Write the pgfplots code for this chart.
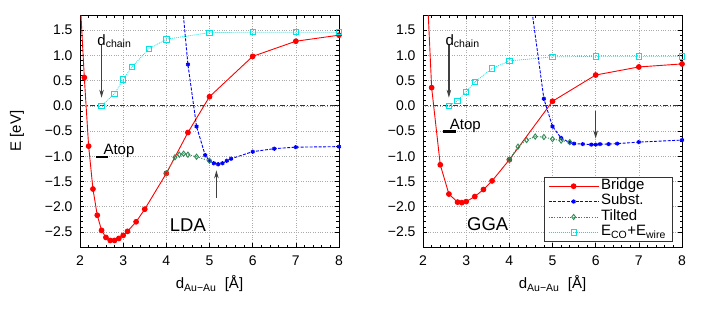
\documentclass[border=0pt]{standalone}
\usepackage{fontspec}
\setmainfont{Liberation Sans}
\usepackage{pgfplots}
\pgfplotsset{compat=1.18}
\usetikzlibrary{arrows.meta}
\definecolor{gpgreen}{RGB}{46,139,87}
\definecolor{gpcyan}{RGB}{0,228,228}
\definecolor{gpgrid}{RGB}{170,170,170}

\tikzset{annarrow/.style={black!75, line width=1.2pt, -{Stealth[length=8pt,width=4.5pt]}}}

\pgfplotsset{
 myaxis/.style={
  scale only axis, width=259pt, height=232pt,
  xmin=2, xmax=8, ymin=-2.8, ymax=1.8,
  xtick={2,...,8}, xticklabels={2,3,4,5,6,7,8},
  ytick={-2.5,-2,...,1.5},
  yticklabels={−2.5,−2.0,−1.5,−1.0,−0.5,0.0,0.5,1.0,1.5},
  minor x tick num=4, minor y tick num=4,
  tick align=inside, major tick length=4pt, minor tick length=2.5pt,
  grid=major, major grid style={dotted, gpgrid, line width=0.5pt},
  axis line style={line width=0.9pt},
  tick style={line width=0.6pt, black},
  tick label style={font=\fontsize{14}{16}\selectfont},
  xticklabel style={yshift=-5pt},
  yticklabel style={xshift=-4pt},
  xlabel={d\textsubscript{Au−Au}\ \ [Å]},
  every axis x label/.style={at={(axis description cs:0.5,-0.181)}, anchor=base, font=\fontsize{15}{17}\selectfont},
  anchor=south west,
 },
 bridge/.style={red, line width=0.9pt, mark=*, mark size=2.4pt, mark options={solid}},
 subst/.style={blue, line width=0.9pt, dash pattern=on 3pt off 1.5pt, mark=asterisk, mark size=2.1pt, mark options={solid, line width=1.3pt}},
 tilted/.style={gpgreen, line width=0.9pt, dash pattern=on 1.2pt off 1.5pt, mark=diamond, mark size=2.6pt, mark options={solid, line width=0.9pt}},
 eco/.style={gpcyan, line width=0.7pt, dash pattern=on 1pt off 1pt, mark=square, mark size=2.7pt, mark options={solid, line width=0.8pt}},
 zeroline/.style={black!80, line width=0.8pt, dash pattern=on 5pt off 2pt on 1pt off 2pt, no marks, forget plot},
}

\begin{document}
\begin{tikzpicture}
\path[use as bounding box] (0,0) rectangle (706pt,309pt);

% ---------------- LDA ----------------
\begin{axis}[myaxis, at={(80pt,62pt)},
  ylabel={E [eV]},
  every axis y label/.style={at={(axis description cs:-0.243,0.5)}, rotate=90, anchor=center, font=\fontsize{15}{17}\selectfont},
]
\addplot[zeroline] coordinates {(2,0) (8,0)};
\addplot[bridge] coordinates {
(2.0,2.16) (2.1,0.56) (2.2,-0.80) (2.3,-1.65) (2.4,-2.17) (2.5,-2.47) (2.6,-2.61)
(2.7,-2.67) (2.8,-2.67) (2.9,-2.63) (3.0,-2.57) (3.1,-2.49) (3.3,-2.30) (3.5,-2.05)
(4.0,-1.34) (4.5,-0.53) (5.0,0.18) (6.0,0.98) (7.0,1.28) (8.0,1.40)};
\addplot[subst] coordinates {
(4.3,2.67) (4.5,0.82) (4.7,-0.41) (4.9,-0.98) (5.0,-1.09) (5.1,-1.14) (5.2,-1.16)
(5.3,-1.14) (5.4,-1.09) (5.5,-1.05) (6.0,-0.91) (6.5,-0.85) (7.0,-0.82) (8.0,-0.81)};
\addplot[tilted] coordinates {
(4.0,-1.34) (4.2,-1.02) (4.3,-0.97) (4.4,-0.95) (4.5,-0.97) (4.7,-1.01) (5.0,-1.09)};
\addplot[eco] coordinates {
(2.5,0.0) (2.8,0.24) (3.0,0.52) (3.2,0.77) (3.6,1.13) (4.0,1.32) (5.0,1.45)
(6.0,1.46) (7.0,1.46) (8.0,1.46)};
\draw[annarrow] (axis cs:2.5,1.21) -- (axis cs:2.5,0.16);
\node[anchor=base west, inner sep=0pt, font=\fontsize{15}{17}\selectfont] at (axis cs:2.4,1.20) {d\textsubscript{chain}};
\draw[black, line width=2.2pt] (axis cs:2.37,-1.01) -- (axis cs:2.66,-1.01);
\node[anchor=base west, inner sep=0pt, font=\fontsize{15}{17}\selectfont] at (axis cs:2.54,-0.97) {Atop};
\draw[annarrow] (axis cs:5.16,-1.83) -- (axis cs:5.16,-1.28);
\node[anchor=center, font=\fontsize{18.5}{20}\selectfont] at (axis cs:4.5,-2.37) {LDA};
\end{axis}

% ---------------- GGA ----------------
\begin{axis}[myaxis, at={(423pt,62pt)},
  legend style={at={(0.962,0.022)}, anchor=south east, draw=black!80, line width=0.6pt,
    fill=white, font=\fontsize{15}{16}\selectfont, row sep=0pt, inner xsep=4pt, inner ysep=1.5pt,
    nodes={inner ysep=0.3pt, text height=10.8pt, text depth=4pt}},
  legend cell align=left,
  legend image code/.code={\draw[mark repeat=2,mark phase=2] plot coordinates {(0pt,0pt) (25pt,0pt) (50pt,0pt)};},
]
\addplot[zeroline] coordinates {(2,0) (8,0)};
\addplot[bridge] coordinates {
(2.0,4.06) (2.2,0.36) (2.4,-1.17) (2.6,-1.75) (2.8,-1.91) (2.9,-1.92) (3.0,-1.90)
(3.2,-1.80) (3.4,-1.66) (3.6,-1.49) (4.0,-1.07) (5.0,0.09) (6.0,0.61) (7.0,0.77) (8.0,0.83)};
\addlegendentry{Bridge}
\addplot[subst] coordinates {
(4.5,2.03) (4.8,0.14) (5.0,-0.41) (5.2,-0.64) (5.4,-0.73) (5.5,-0.75) (5.7,-0.76)
(5.9,-0.77) (6.0,-0.77) (6.1,-0.76) (6.3,-0.76) (6.5,-0.75) (7.0,-0.72) (8.0,-0.68)};
\addlegendentry{Subst.}
\addplot[tilted] coordinates {
(4.0,-1.07) (4.2,-0.81) (4.4,-0.68) (4.6,-0.61) (4.8,-0.62) (5.0,-0.66) (5.2,-0.69) (5.4,-0.72)};
\addlegendentry{Tilted}
\addplot[eco] coordinates {
(2.6,0.0) (2.8,0.10) (3.0,0.28) (3.2,0.47) (3.6,0.74) (4.0,0.89) (5.0,0.97)
(6.0,0.98) (7.0,0.98) (8.0,0.98)};
\addlegendentry{E\textsubscript{CO}+E\textsubscript{wire}}
\draw[annarrow] (axis cs:2.6,1.21) -- (axis cs:2.6,0.16);
\node[anchor=base west, inner sep=0pt, font=\fontsize{15}{17}\selectfont] at (axis cs:2.52,1.20) {d\textsubscript{chain}};
\draw[black, line width=2.2pt] (axis cs:2.46,-0.51) -- (axis cs:2.77,-0.51);
\node[anchor=base west, inner sep=0pt, font=\fontsize{15}{17}\selectfont] at (axis cs:2.62,-0.47) {Atop};
\draw[annarrow] (axis cs:6.0,-0.11) -- (axis cs:6.0,-0.65);
\node[anchor=center, font=\fontsize{18.5}{20}\selectfont] at (axis cs:3.5,-2.34) {GGA};
\end{axis}
\end{tikzpicture}
\end{document}
